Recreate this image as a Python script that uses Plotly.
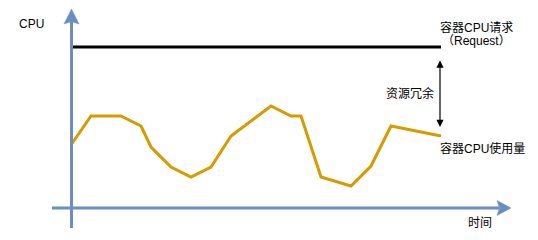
import plotly.graph_objects as go

# ---- data ----
time = [0, 2, 5, 7, 8, 10, 12, 14, 16, 20, 22, 23, 25, 28, 30, 32, 37]
cpu_usage = [6.3, 9.2, 9.2, 8.2, 6.1, 4.1, 3.1, 4.1, 7.2, 10.2, 9.2, 9.2, 3.1, 2.2, 4.2, 8.2, 7.2]
request_time = [0, 37]
request_value = [16.1, 16.1]

labels = {
    "ylabel": "CPU",
    "xlabel": "时间",
    "request": "容器CPU请求",
    "request2": "（Request）",
    "slack": "资源冗余",
    "usage": "容器CPU使用量",
}

# pixel -> data helpers (used only for decoration placement)
def tx(px):
    return (px - 71) / 10

def cy(py):
    return (208 - py) / 10

AXIS = "#6C8EBF"
ORANGE = "#D79B00"
FONT = "Liberation Sans, Arial, Noto Sans CJK SC, sans-serif"

fig = go.Figure()
fig.add_trace(go.Scatter(x=time, y=cpu_usage, mode="lines",
                         line=dict(color=ORANGE, width=3), hoverinfo="skip"))
fig.add_trace(go.Scatter(x=request_time, y=request_value, mode="lines",
                         line=dict(color="black", width=3), hoverinfo="skip"))

shapes = []
# x axis line
shapes.append(dict(type="line", xref="x", yref="y", x0=tx(52), x1=tx(499), y0=cy(208), y1=cy(208),
                   line=dict(color=AXIS, width=3), layer="above"))
# x axis arrow head
shapes.append(dict(type="path", xref="x", yref="y",
                   path=f"M {tx(511)} {cy(208)} L {tx(497)} {cy(200.5)} L {tx(499.5)} {cy(208)} L {tx(497)} {cy(215.5)} Z",
                   fillcolor=AXIS, line=dict(color=AXIS, width=0.5), layer="above"))
# y axis line
shapes.append(dict(type="line", xref="x", yref="y", x0=tx(71.5), x1=tx(71.5), y0=cy(228), y1=cy(21),
                   line=dict(color=AXIS, width=3), layer="above"))
# y axis arrow head
shapes.append(dict(type="path", xref="x", yref="y",
                   path=f"M {tx(71.5)} {cy(9)} L {tx(64)} {cy(24)} L {tx(71.5)} {cy(21.5)} L {tx(79)} {cy(24)} Z",
                   fillcolor=AXIS, line=dict(color=AXIS, width=0.5), layer="above"))

annotations = []
# double-headed arrow (resource slack)
annotations.append(dict(x=tx(440), y=cy(127), ax=tx(440), ay=cy(59), xref="x", yref="y",
                        axref="x", ayref="y", text="", showarrow=True,
                        arrowhead=2, startarrowhead=2, arrowside="end+start",
                        arrowsize=1.2, startarrowsize=1.2, arrowwidth=1.2, arrowcolor="black"))

def txt(s, px, py, xanchor="center"):
    annotations.append(dict(x=tx(px), y=cy(py), xref="x", yref="y", text=s, showarrow=False,
                            xanchor=xanchor, yanchor="middle",
                            font=dict(family=FONT, size=12, color="black")))

txt(labels["ylabel"], 31, 24)
txt(labels["request"], 476, 27)
txt(labels["request2"], 476, 41)
txt(labels["slack"], 410, 93)
txt(labels["usage"], 482, 148)
txt(labels["xlabel"], 480, 223)

fig.update_layout(
    width=538, height=240,
    margin=dict(l=0, r=0, t=0, b=0),
    paper_bgcolor="white", plot_bgcolor="white",
    showlegend=False,
    xaxis=dict(range=[tx(0), tx(538)], visible=False, fixedrange=True),
    yaxis=dict(range=[cy(240), cy(0)], visible=False, fixedrange=True),
    shapes=shapes, annotations=annotations,
)

fig.write_html("out.html", config={"displayModeBar": False})
